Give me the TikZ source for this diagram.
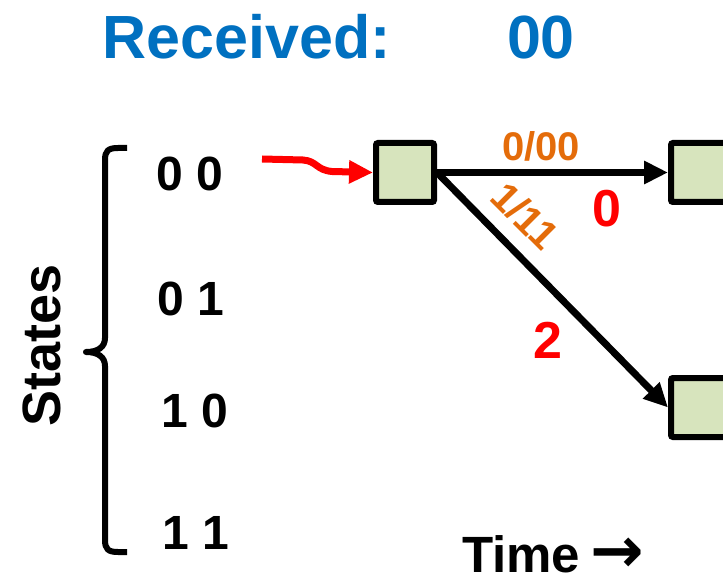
\documentclass[tikz,border=0pt]{standalone}
\usepackage{fontspec}
\setmainfont{Liberation Sans}
\newfontfamily\arrowfont{DejaVu Sans}
\usetikzlibrary{arrows.meta,shadows}
\definecolor{recvblue}{RGB}{0,112,192}
\definecolor{edgeorange}{RGB}{228,108,10}
\definecolor{statefill}{RGB}{215,228,189}
\begin{document}
\begin{tikzpicture}[x=1pt,y=-1pt,
  statebox/.style={draw=black,line width=6pt,fill=statefill,rounded corners=2pt,
    minimum width=58pt,minimum height=59pt,inner sep=0pt,
    drop shadow={opacity=0.25,shadow xshift=2pt,shadow yshift=-2pt}},
  transition/.style={line width=7pt,-{Triangle[length=24pt,width=22pt]}},
  statelabel/.style={font=\bfseries\fontsize{48}{48}\selectfont,anchor=base},
  edgelabel/.style={font=\bfseries\fontsize{40}{40}\selectfont,text=edgeorange},
  metric/.style={font=\bfseries\fontsize{52}{52}\selectfont,text=red},
  heading/.style={font=\bfseries\fontsize{61}{61}\selectfont,text=recvblue,anchor=base}]
\useasboundingbox (0,0) rectangle (723,580);
\clip (0,0) rectangle (723,580);

% heading
\node[heading] (rcv) at (247,59) {Received:};
\node[heading] (bits) at (541,59) {00};

% state axis
\node[font=\bfseries\fontsize{54}{54}\selectfont,rotate=90] (states) at (42,345) {States};
\draw[line width=6pt,line join=round]
  (127,148) -- (118,148) .. controls (108,148) and (105,151) .. (105,160)
  -- (105,338) .. controls (105,347) and (98,352) .. (86,352)
  .. controls (98,352) and (105,357) .. (105,366)
  -- (105,540) .. controls (105,549) and (108,552) .. (118,552) -- (127,552);
\node[statelabel] (s00) at (190,191) {0 0};
\node[statelabel] (s01) at (191,315) {0 1};
\node[statelabel] (s10) at (195,427) {1 0};
\node[statelabel] (s11) at (196,549) {1 1};

% trellis nodes
\node[statebox] (a) at (405,172.5) {};
\node[statebox] (b) at (700,172.5) {};
\node[statebox] (c) at (700,407.5) {};

% start marker
\coordinate (start) at (262,159);
\draw[red,line width=7pt,-{Triangle[length=24pt,width=22pt]}]
  (start) -- (303,160) .. controls (317,161) and (316,170) .. (332,171.5) -- (a.west);

% transitions
\draw[transition] (a.east) -- (b.west);
\draw[transition] (a.east) -- (c.west);
\node[edgelabel,anchor=base] (l0) at (541,161) {0/00};
\node[edgelabel,rotate=-45] (l1) at (525,216) {1/11};
\node[metric] (m0) at (607,209) {0};
\node[metric] (m2) at (548,340) {2};

% time axis
\node[font=\bfseries\fontsize{51}{51}\selectfont,anchor=base west,inner sep=0pt] (time) at (462,572)
  {Time\hspace{0.2em}{\arrowfont\bfseries\fontsize{64}{64}\selectfont →}};
\end{tikzpicture}
\end{document}
